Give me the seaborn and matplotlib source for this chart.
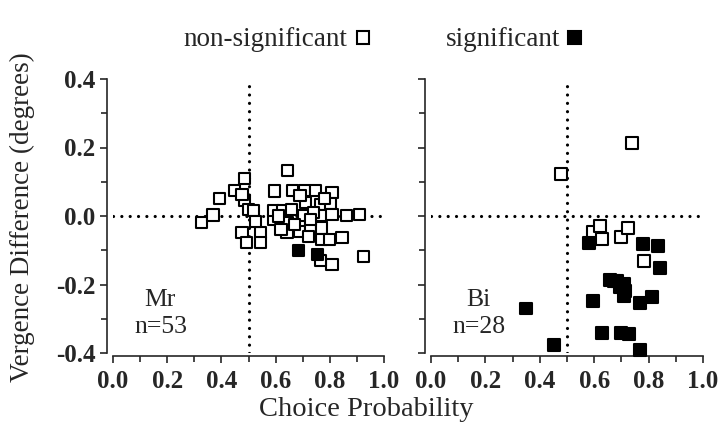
import numpy as np
import pandas as pd
import matplotlib
matplotlib.use("Agg")
import matplotlib.pyplot as plt
import seaborn as sns
from matplotlib.ticker import MultipleLocator

# ---- data: monkey Mr (left panel) ----
mr_open_cp = [0.328, 0.369, 0.393, 0.449, 0.486, 0.486, 0.476, 0.500, 0.519, 0.476,
              0.494, 0.544, 0.544, 0.525, 0.595, 0.593, 0.593, 0.644, 0.664, 0.706,
              0.746, 0.808, 0.710, 0.765, 0.802, 0.703, 0.771, 0.808, 0.863, 0.910,
              0.627, 0.642, 0.642, 0.689, 0.728, 0.771, 0.771, 0.845, 0.800, 0.925,
              0.808, 0.765, 0.670, 0.740, 0.610, 0.660, 0.730, 0.780, 0.690, 0.720,
              0.620]
mr_open_vd = [-0.020, 0.003, 0.052, 0.075, 0.110, 0.046, 0.063, 0.020, 0.015, -0.049,
              -0.078, -0.049, -0.078, -0.015, 0.073, -0.010, 0.015, 0.133, 0.075, 0.075,
              0.075, 0.068, 0.039, 0.034, 0.036, 0.002, 0.002, 0.005, 0.002, 0.005,
              0.015, -0.020, -0.049, -0.044, -0.035, -0.035, -0.068, -0.063, -0.068, -0.117,
              -0.141, -0.130, -0.025, 0.010, 0.000, 0.020, -0.010, 0.050, 0.060, -0.060,
              -0.040]
mr_sig_cp = [0.685, 0.755]
mr_sig_vd = [-0.100, -0.112]

# ---- data: monkey Bi (right panel) ----
bi_open_cp = [0.739, 0.478, 0.596, 0.620, 0.629, 0.699, 0.723, 0.784]
bi_open_vd = [0.214, 0.123, -0.046, -0.029, -0.068, -0.061, -0.034, -0.131]
bi_sig_cp = [0.582, 0.778, 0.834, 0.843, 0.659, 0.684, 0.708, 0.711, 0.714, 0.596,
             0.770, 0.812, 0.350, 0.453, 0.629, 0.699, 0.727, 0.770, 0.695, 0.672]
bi_sig_vd = [-0.079, -0.083, -0.088, -0.151, -0.188, -0.191, -0.198, -0.233, -0.218, -0.249,
             -0.255, -0.237, -0.270, -0.378, -0.342, -0.342, -0.345, -0.392, -0.208, -0.190]

panels = [("Mr", "n=53"), ("Bi", "n=28")]
xticks = [0.0, 0.2, 0.4, 0.6, 0.8, 1.0]
yticks = [-0.4, -0.2, 0.0, 0.2, 0.4]

def frame(cp_o, vd_o, cp_s, vd_s, name):
    return pd.DataFrame({
        "cp": cp_o + cp_s,
        "vd": vd_o + vd_s,
        "sig": ["non-significant"] * len(cp_o) + ["significant"] * len(cp_s),
        "monkey": name,
    })

df = pd.concat([frame(mr_open_cp, mr_open_vd, mr_sig_cp, mr_sig_vd, "Mr"),
                frame(bi_open_cp, bi_open_vd, bi_sig_cp, bi_sig_vd, "Bi")])

sns.set_style("ticks")
plt.rcParams["font.family"] = ["Liberation Serif", "DejaVu Serif"]

fig = plt.figure(figsize=(7.2, 4.3), dpi=100)
ax1 = fig.add_axes([113/720, 1-353/430, 271/720, 274/430])
ax2 = fig.add_axes([431/720, 1-353/430, 272/720, 274/430])

palette = {"non-significant": "white", "significant": "black"}
sizes = {"Mr": 64, "Bi": 74}
for ax, (name, ntxt) in zip([ax1, ax2], panels):
    d = df[df.monkey == name]
    ax.axvline(0.5, color="black", lw=2.3, ls=(0, (0.01, 2.6)),
               dash_capstyle="round", zorder=1)
    ax.axhline(0.0, color="black", lw=2.3, ls=(0, (0.01, 2.6)),
               dash_capstyle="round", zorder=1)
    sns.scatterplot(data=d, x="cp", y="vd", hue="sig", palette=palette,
                    marker="s", s=sizes[name], edgecolor="black", linewidth=1.5,
                    legend=False, ax=ax, zorder=3, clip_on=False)
    sns.despine(ax=ax, offset={"left": 4, "bottom": 2})
    ax.set_xlim(0, 1)
    ax.set_ylim(-0.4, 0.4)
    ax.set_xticks(xticks)
    ax.set_yticks(yticks)
    ax.xaxis.set_minor_locator(MultipleLocator(0.1))
    ax.yaxis.set_minor_locator(MultipleLocator(0.1))
    ax.tick_params(which="major", length=5, width=1.2, labelsize=18)
    ax.tick_params(axis="x", which="major", pad=5)
    ax.tick_params(which="minor", length=4, width=1.2)
    ax.set_xticklabels([f"{t:.1f}" for t in xticks], fontweight="bold")
    ax.set_xlabel("")
    ax.set_ylabel("")
    for sp in ("left", "bottom"):
        ax.spines[sp].set_linewidth(1.2)
    ax.text(0.175, 0.195, name, transform=ax.transAxes, ha="center",
            va="center", fontsize=18.5)
    ax.text(0.175, 0.095, ntxt, transform=ax.transAxes, ha="center",
            va="center", fontsize=18.5)

ax1.set_yticklabels([f"{t:.1f}" for t in yticks], fontweight="bold")
ax2.set_yticklabels([])

fig.text(366/720, 1-410/430, "Choice Probability", ha="center", va="center",
         fontsize=20.5)
fig.text(22/720, 1-217/430, "Vergence Difference (degrees)", ha="center",
         va="center", rotation=90, fontsize=19.5)

# legend labels at top
fig.text(347/720, 1-40/430, "non-significant", ha="right", va="center",
         fontsize=19.5)
fig.text(560/720, 1-40/430, "significant", ha="right", va="center",
         fontsize=19.5)
fig.patches.append(plt.Rectangle((357/720, 1-43.5/430), 12/720, 12/430,
                                 transform=fig.transFigure, facecolor="white",
                                 edgecolor="black", lw=1.5))
fig.patches.append(plt.Rectangle((568/720, 1-44/430), 13/720, 13/430,
                                 transform=fig.transFigure, facecolor="black",
                                 edgecolor="black", lw=1.5))

fig.savefig("out.png", dpi=100)
